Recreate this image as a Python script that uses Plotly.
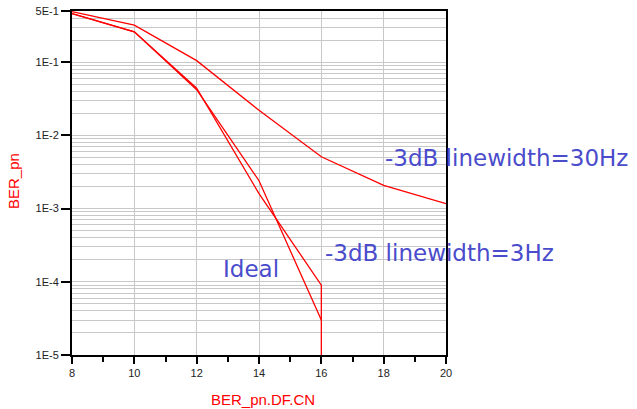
import plotly.graph_objects as go

# ---- data ----
cn_db = [8, 10, 12, 14, 16, 18, 20]
ber_30hz = [0.49, 0.32, 0.105, 0.022, 5.1e-3, 2.07e-3, 1.17e-3]

cn_db_3hz = [8, 10, 12, 14, 16, 16]
ber_3hz = [0.46, 0.26, 0.044, 1.6e-3, 9.0e-5, 1e-9]   # last point drops below axis floor

cn_db_ideal = [8, 10, 12, 14, 16]
ber_ideal = [0.46, 0.26, 0.042, 2.4e-3, 3.0e-5]

y_tickvals = [1e-5, 1e-4, 1e-3, 1e-2, 1e-1, 5e-1]
y_ticktext = ["1E-5", "1E-4", "1E-3", "1E-2", "1E-1", "5E-1"]
x_tickvals = [8, 10, 12, 14, 16, 18, 20]

labels = ["-3dB linewidth=30Hz", "-3dB linewidth=3Hz", "Ideal"]

# ---- figure ----
W, H = 637, 409
L, T = 72, 11
PW, PH = 374, 344
R = W - L - PW
B = H - T - PH

def px(xw):
    return (xw - L) / PW

def py(yw):
    return (T + PH - yw) / PH

line_style = dict(color="#ff0000", width=1.3)
fig = go.Figure()
fig.add_trace(go.Scatter(x=cn_db, y=ber_30hz, mode="lines", line=line_style,
                         name=labels[0], showlegend=False))
fig.add_trace(go.Scatter(x=cn_db_3hz, y=ber_3hz, mode="lines", line=line_style,
                         name=labels[1], showlegend=False))
fig.add_trace(go.Scatter(x=cn_db_ideal, y=ber_ideal, mode="lines", line=line_style,
                         name=labels[2], showlegend=False))

ann_font = dict(family="DejaVu Sans", size=23, color="#4a4ccc")
fig.add_annotation(text=labels[0], xref="paper", yref="paper", x=px(383), y=py(158),
                   xanchor="left", yanchor="middle", showarrow=False, font=ann_font)
fig.add_annotation(text=labels[1], xref="paper", yref="paper", x=px(323), y=py(253),
                   xanchor="left", yanchor="middle", showarrow=False, font=ann_font)
fig.add_annotation(text=labels[2], xref="paper", yref="paper", x=px(221), y=py(269),
                   xanchor="left", yanchor="middle", showarrow=False, font=ann_font)

# axis titles
title_font = dict(family="Liberation Sans, Arial", size=15, color="#ff0000")
fig.add_annotation(text="BER_pn", xref="paper", yref="paper", x=px(13), y=py(181),
                   xanchor="center", yanchor="middle", textangle=-90, showarrow=False,
                   font=title_font)
fig.add_annotation(text="BER_pn.DF.CN", xref="paper", yref="paper", x=px(263), y=py(399),
                   xanchor="center", yanchor="middle", showarrow=False,
                   font=title_font)

tick_font = dict(family="Liberation Sans, Arial", size=11, color="#222222")
fig.update_layout(
    width=W, height=H,
    margin=dict(l=L, r=R, t=T, b=B),
    paper_bgcolor="white", plot_bgcolor="white",
    xaxis=dict(range=[8, 20], tickvals=x_tickvals, ticks="outside", ticklen=7,
               tickwidth=2, tickcolor="black", showline=True, linewidth=2,
               linecolor="black", mirror=True, showgrid=True, gridcolor="#c8c8c8",
               gridwidth=1.3, zeroline=False, tickfont=tick_font, automargin=False,
               minor=dict(dtick=1, ticks="outside", ticklen=5, tickwidth=1.5,
                          tickcolor="black", showgrid=False)),
    yaxis=dict(type="log", range=[-5, -0.30103], tickvals=y_tickvals,
               ticktext=y_ticktext, ticks="outside", ticklen=9, tickwidth=2,
               tickcolor="black", showline=True, linewidth=2, linecolor="black",
               mirror=True, showgrid=True, gridcolor="#c8c8c8", gridwidth=1.3,
               zeroline=False, tickfont=tick_font, automargin=False,
               minor=dict(dtick="D1", ticks="", showgrid=True,
                          gridcolor="#c8c8c8", gridwidth=1.3)),
)

# remove the default 8px page margin so the figure sits at the window origin
fig.write_html("out.html", config={"displayModeBar": False},
               post_script="document.body.style.margin='0px';")
